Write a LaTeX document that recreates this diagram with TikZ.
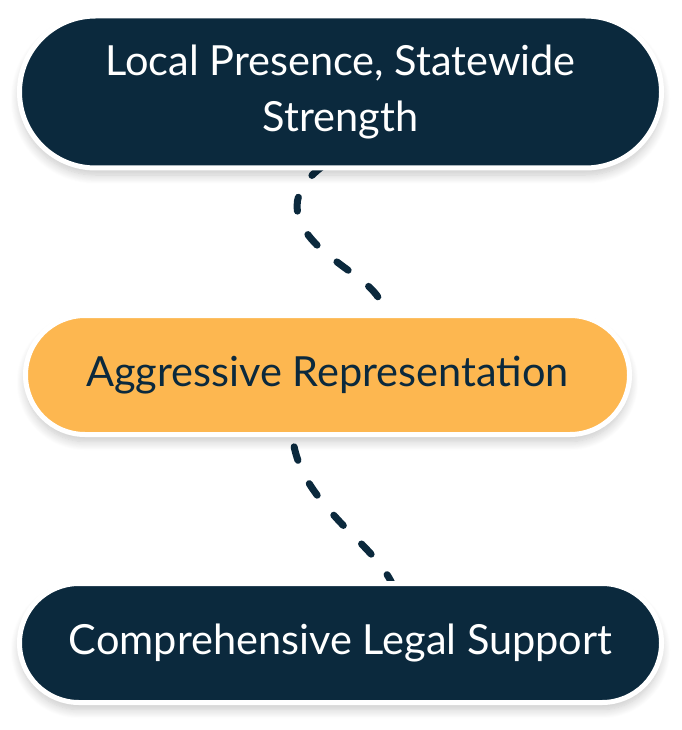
\documentclass[tikz,border=0pt]{standalone}
\usepackage{fontspec}
\setmainfont{Lato}
\usetikzlibrary{shadows.blur}
\definecolor{navy}{RGB}{11,41,61}
\definecolor{amber}{RGB}{253,183,80}
\pgfdeclarelayer{background}
\pgfsetlayers{background,main}
\begin{document}
\begin{tikzpicture}[x=1pt,y=-1pt,
  pill/.style={rectangle, draw=white, line width=5pt, inner sep=0pt, align=center,
    blur shadow={shadow xshift=0pt, shadow yshift=-7pt, shadow blur radius=9pt, shadow opacity=22, shadow blur steps=12},
    font=\fontsize{41.5}{56}\selectfont},
  darkpill/.style={pill, fill=navy, text=white},
  lightpill/.style={pill, fill=amber, text=navy},
  link/.style={draw=navy, line width=7pt, line cap=round, dash pattern=on 14pt off 26pt}]
\useasboundingbox (0,0) rectangle (681,730);
\node[darkpill, minimum width=642pt, minimum height=152pt, rounded corners=76pt] (n1) at (340.5,92) {Local Presence, Statewide\\Strength};
\node[lightpill, minimum width=604pt, minimum height=119pt, rounded corners=59.5pt] (n2) at (327.5,375) {Aggressive Representation};
\node[darkpill, minimum width=642pt, minimum height=119pt, rounded corners=59.5pt] (n3) at (340.5,643) {Comprehensive Legal Support};
\coordinate (a1) at (335,158);
\coordinate (a2) at (320,248);
\coordinate (a3) at (385,312);
\coordinate (b1) at (292,432);
\coordinate (b2) at (340,522);
\coordinate (b3) at (395,590);
\begin{pgfonlayer}{background}
\draw[link, dash phase=-15pt] (a1) .. controls (290,185) and (285,215) .. (a2) .. controls (350,275) and (378,285) .. (a3);
\draw[link, dash phase=-15pt] (b1) .. controls (295,470) and (315,495) .. (b2) .. controls (365,548) and (385,565) .. (b3);
\end{pgfonlayer}
\end{tikzpicture}
\end{document}
